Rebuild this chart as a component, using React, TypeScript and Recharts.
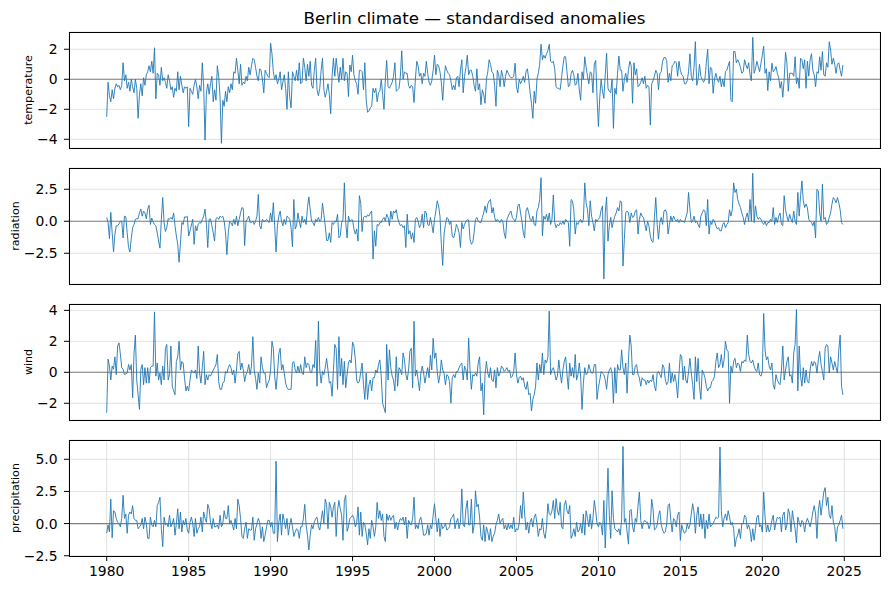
import React from 'react';
import { LineChart, Line, XAxis, YAxis, CartesianGrid, ReferenceLine } from 'recharts';

// Monthly standardised anomalies, Jan 1980 .. Dec 2024 (12 values per row = one year)
const temperature: number[] = [
  -2.5, -0.2, -1.1, -1.5, -0.7, -1.3, -0.6, -0.3, -0.5, -0.4, -0.7, -0.4,
  1.1, -0.1, 0.3, -0.6, -0.2, -0.8, 0.0, -0.5, -0.9, 0.0, -0.6, -2.6,
  -1.0, -0.3, -1.1, 0.1, -0.4, 0.3, 0.5, 0.9, 0.5, 1.2, 0.4, 2.1,
  -1.3, 0.4, 0.3, -0.4, 0.8, -0.1, 0.1, -0.2, -0.6, 0.3, -0.1, -0.7,
  -0.5, -1.2, -0.6, -0.8, 0.5, -0.7, 0.2, -0.4, -0.9, -0.5, -0.6, -0.5,
  -3.15, -0.6, -0.8, -1.0, -0.4, 0.0, -0.5, -1.3, -0.4, -0.8, 1.1, -0.5,
  -4.05, -0.9, -0.3, -1.0, -0.3, 0.2, -1.5, -0.7, -1.4, 0.9, 0.2, -1.2,
  -4.27, -1.4, -1.8, -0.8, -1.5, -0.5, -0.9, -0.3, -0.7, 0.5, 0.4, 1.4,
  0.6, -0.3, 1.0, -0.4, -0.2, -0.3, 0.2, -0.1, 0.8, 0.3, 0.9, 1.4,
  1.3, 0.8, 0.2, -0.1, 0.7, 0.6, 0.0, -0.9, 0.6, 0.4, 0.2, 0.1,
  2.4, 1.7, 0.5, 0.0, 0.3, -0.3, 0.0, 0.5, -0.7, -0.2, 0.3, -0.6,
  -2.0, 0.5, -1.2, -1.9, 0.5, 0.2, -0.1, 0.6, -0.1, 1.1, -0.3, -0.2,
  1.4, 0.8, -0.1, 1.0, 0.2, 1.2, -0.4, -0.6, 0.6, 1.4, -0.7, -1.1,
  -0.6, 0.6, 1.4, -0.7, -1.2, -0.8, -0.3, -1.0, -2.3, 0.2, 1.4, 0.2,
  1.4, 0.6, -0.2, 0.8, 0.0, 1.4, -0.1, 0.5, 0.4, -1.15, 0.95, 0.5,
  1.6, 0.3, -0.1, -0.3, -1.0, 0.6, 0.6, 0.5, -0.7, 1.1, -1.4, -2.2,
  -2.1, -1.9, -1.8, -0.6, -0.9, -0.6, -1.5, -0.9, -0.8, 0.0, -1.0, -2.0,
  0.0, 1.25, -0.5, -0.6, -0.4, -0.2, 0.2, 1.1, -0.8, -0.7, -0.6, 0.2,
  1.9, 0.0, 0.5, 0.4, 0.4, -0.4, -0.6, -0.4, -0.5, -1.55, 0.0, 1.2,
  0.9, 0.2, 0.4, -0.3, 0.4, 0.2, 1.2, 0.4, -0.2, -0.4, -0.1, 0.6,
  1.6, 0.3, 1.0, 0.9, 0.5, -0.2, -1.4, 0.0, 0.9, 0.6, 0.4, 0.3,
  -0.1, -0.7, -0.4, -0.7, 0.1, 0.2, -0.5, 0.6, 1.3, -0.9, 0.2, 0.8,
  1.6, 0.3, 0.6, 0.6, 0.2, -0.4, -0.8, 0.7, -0.7, -0.3, -1.7, -0.7,
  -1.0, -1.6, 0.0, 0.5, 1.3, 1.0, 0.5, 0.4, -0.4, -1.8, 0.6, 0.3,
  -0.5, 0.6, 0.2, -0.5, 0.2, 0.6, 0.4, 0.2, 0.1, 0.1, 0.2, 1.07,
  -0.5, -0.9, 0.0, -0.3, -0.1, 0.2, -0.2, 0.5, 0.7, 0.0, -0.9, -1.6,
  -2.6, -0.8, -1.6, 0.0, 0.4, 1.0, 2.33, 1.3, 1.6, 1.4, 1.7, 1.9,
  2.33, 1.2, 1.1, 1.2, 0.7, -0.5, -0.6, -0.6, -0.7, 0.1, 0.9, 1.5,
  1.5, 0.5, -0.5, -0.4, 0.4, 0.6, 0.3, -0.4, -0.3, 0.4, -0.7, -1.4,
  0.5, 0.0, 1.5, 0.8, 0.2, -0.3, 0.5, 0.4, -0.9, 1.0, 1.25, -1.2,
  -3.15, -1.2, 0.0, -0.8, -1.27, 0.3, 1.73, -0.6, -0.8, -0.9, 0.0, -3.27,
  -0.6, -1.0, 0.4, 1.55, 0.6, 0.6, -0.8, 0.0, 0.4, -0.2, 0.6, 1.2,
  0.9, -1.6, 1.1, 0.3, 0.7, -0.5, -0.4, -0.2, 0.1, -0.3, 0.2, -0.6,
  -0.4, -0.5, -3.05, -0.3, -0.1, 0.2, 0.6, 0.4, -0.7, 0.4, 0.5, 1.2,
  1.45, 1.45, 1.25, -0.2, 0.4, -0.1, 0.9, 1.0, 1.2, 1.1, 0.2, 1.2,
  0.6, 0.3, 0.2, -0.3, -0.3, -0.1, 0.5, 1.7, 0.2, -0.1, 0.8, 2.5,
  -0.4, 0.0, 1.0, 0.2, 0.0, -0.2, 0.0, 1.1, 2.0, -0.3, 0.8, 0.7,
  -0.93, 0.0, 0.4, 0.0, -0.2, 0.2, -0.5, 0.0, -0.5, 0.5, 0.6, 0.9,
  1.2, -1.4, -1.5, 1.85, 1.85, 1.1, 1.3, 1.1, 0.8, 0.4, 0.5, 1.3,
  0.95, 0.7, 1.1, 0.3, -0.1, 2.8, 0.4, 0.7, 1.2, 0.85, 0.5, 1.07,
  1.6, 2.2, 0.4, 0.7, -0.75, 0.5, -0.1, 1.07, 0.5, 0.6, 0.85, 0.4,
  0.1, -0.6, -0.15, -1.2, 0.0, 1.8, 1.1, -0.8, 0.4, 0.4, 0.4, 0.2,
  1.5, -0.3, 0.1, -0.6, 1.4, 1.3, 0.7, 1.3, -0.6, 1.2, 0.2, 1.3,
  1.7, 0.6, 0.3, -0.5, 0.5, 0.4, 1.5, 0.6, 1.85, 0.3, 0.2, 1.1,
  0.8, 2.5, 1.95, 1.0, 1.4, 1.0, 0.4, 1.0, 1.1, 0.6, 0.2, 0.95,
];

const radiation: number[] = [
  0.3, -0.1, -1.35, 0.7, -0.9, -2.4, -1.0, -0.35, -0.35, -0.2, 0.0, 0.0,
  -1.3, 0.4, 0.35, -0.9, -2.05, -2.4, -1.3, -0.5, -0.25, 0.15, 0.2, 0.2,
  0.65, 0.95, 0.4, 0.8, 0.65, 0.2, 0.95, 1.25, -0.25, 0.25, -0.05, -0.25,
  -0.35, -0.9, -1.55, -2.1, 0.15, 1.85, -0.1, -0.8, -0.5, 0.2, 0.15, 0.3,
  0.15, 0.65, -0.35, -1.15, -1.8, -3.2, -1.7, -0.1, -0.25, 0.35, 0.3, 0.4,
  -1.15, -0.75, -0.3, 0.15, -1.8, -0.35, -0.75, -0.25, -0.1, -0.15, 0.15, 0.4,
  0.95, -0.25, -2.05, 0.15, 0.2, -0.35, -0.9, -1.55, 0.2, 0.3, 0.15, 0.4,
  0.3, 0.4, 0.0, -0.9, -2.6, -0.9, 0.0, -0.1, -0.35, 0.15, -0.25, 0.4,
  -0.35, 0.15, 0.65, 1.07, 1.0, -1.9, 0.0, 0.15, 0.4, -0.1, -0.1, 0.0,
  -0.25, 0.0, 0.4, 2.1, -0.35, -0.6, 0.15, 0.0, 0.0, 0.15, 0.0, -0.1,
  0.65, 0.0, 1.45, -0.35, -2.4, -0.35, 0.4, 0.8, 0.0, -0.35, 0.15, -0.25,
  0.4, 0.3, 0.15, -0.5, -2.0, 1.7, -0.6, -0.35, 0.65, 0.0, -0.5, 0.4,
  -0.1, 0.15, -0.25, 1.07, 1.9, 0.9, 0.0, -0.1, -0.35, 0.15, 0.0, 0.3,
  0.0, 0.15, 1.4, 0.55, -0.35, -1.5, -1.5, -0.9, -1.65, -0.1, -0.25, 0.0,
  -0.05, 0.55, -1.3, -1.15, -0.1, 0.15, 3.0, -0.1, -1.3, 0.4, 0.0, 0.1,
  0.1, -0.6, -1.0, -0.6, -1.55, 2.0, 1.4, -0.8, 0.3, 0.4, 0.3, 0.5,
  0.4, 0.65, 0.8, -2.95, -0.75, -1.95, -0.25, -0.35, -0.1, -0.1, 0.15, 0.3,
  0.0, 0.55, 0.3, -0.35, 0.8, 0.15, 0.8, 0.65, 0.9, 0.25, -0.1, -0.35,
  -0.25, -0.5, -0.35, -2.05, 0.55, -1.0, -0.75, -1.4, -0.9, -1.65, 0.15, 0.3,
  0.0, -0.5, -0.25, 0.55, -0.5, 0.8, 0.65, -0.25, -0.35, 0.3, -0.25, -0.9,
  0.15, 0.8, 1.6, 1.2, 0.4, -1.8, -3.45, -1.0, -0.25, 0.3, 0.2, -0.25,
  0.0, -1.15, -1.3, -0.9, -0.25, -0.5, -0.9, -2.05, -0.1, -0.6, -0.25, 0.0,
  0.1, 0.1, -1.4, -1.8, -1.65, -0.9, 0.15, 0.3, 0.0, -0.1, -0.1, 0.3,
  0.65, 1.2, 0.65, 1.35, 1.6, 1.7, 0.65, 1.07, 0.3, 0.0, 0.15, 0.0,
  -0.1, 0.15, 0.0, -0.9, -1.35, 0.15, 0.4, 0.65, 0.8, 0.3, 0.15, 0.0,
  0.3, 1.2, 1.35, 0.65, 0.0, -0.9, -1.3, 0.8, 1.07, 0.65, 0.15, 0.0,
  0.4, -0.25, -0.35, 0.8, 1.07, 1.7, 3.4, -1.15, 0.4, 0.15, 0.55, 0.0,
  0.65, -0.25, 0.15, 2.05, -0.1, -0.5, -0.25, -0.35, -0.1, -0.25, 0.0, -0.25,
  0.15, 0.0, -0.1, -1.95, 1.7, 1.6, 0.9, -1.0, -0.1, -0.25, 0.0, 0.15,
  -0.1, 0.15, 3.0, 1.45, 0.9, -0.35, 1.6, 0.4, -0.1, -0.75, 0.15, 0.0,
  0.15, 0.3, 0.9, 1.2, -4.5, 0.65, 1.9, -1.55, -0.35, 0.3, -0.5, 0.0,
  0.4, 0.65, 1.07, 0.8, 1.6, 1.45, -3.5, -1.4, 0.65, 0.8, 0.65, -0.1,
  0.65, 0.3, 0.4, 0.8, 0.9, -1.0, 0.15, 0.65, 0.4, 0.3, -0.25, -0.75,
  0.0, -0.35, -1.15, -1.55, -1.65, 0.3, 1.85, -0.25, -1.4, -0.1, 0.3, -0.25,
  0.8, 0.9, 0.65, -1.0, -0.25, 0.4, 0.0, 0.4, 0.15, 0.0, 0.15, -0.1,
  0.15, 0.0, 0.0, -0.1, 0.3, 0.65, 2.25, 0.9, -0.1, 0.0, 0.4, -0.1,
  0.0, -0.25, -0.5, 0.4, 0.65, 0.9, 0.8, -0.35, 1.7, -1.0, 0.0, -0.25,
  0.15, 0.0, -0.35, -0.6, -0.5, -0.75, -0.75, -0.25, -0.1, -0.5, -0.25, -0.1,
  0.9, 0.4, 0.9, 3.0, 2.25, 2.5, 1.7, 1.35, 1.07, 0.65, 0.3, -0.25,
  0.3, 0.65, 0.0, 1.7, 0.0, 3.75, -0.1, 1.2, 0.4, 0.15, 0.3, 0.15,
  -0.1, -0.25, 0.0, -0.35, -0.1, -0.1, 0.15, 0.0, 1.07, -0.25, 0.3, -0.1,
  0.4, 0.65, -0.25, -0.35, 2.0, 0.9, 0.4, 0.0, 0.55, 0.15, -0.1, 0.8,
  0.0, -0.25, 2.25, 0.4, 2.0, 3.15, 1.6, 1.07, 1.35, 1.07, 0.15, 0.0,
  -0.1, -0.35, 0.0, -1.3, 2.5, 2.35, 0.65, 0.0, 2.9, 0.15, 0.3, -0.25,
  -0.1, 0.3, 0.65, 1.35, 1.85, 1.7, 1.45, 1.85, 1.45, 0.9, -0.1, -0.25,
];

const wind: number[] = [
  -2.6, 0.85, 0.4, -0.5, 0.4, 0.2, 1.0, -0.15, 1.7, 1.9, 1.2, 0.3,
  0.2, -0.15, -0.1, -0.05, 0.5, 0.15, 0.5, -1.65, 1.2, 2.4, -0.5, -1.45,
  -2.4, 0.2, 0.5, -0.8, 0.3, -0.7, 0.3, -0.7, 0.3, 0.4, 0.4, 3.9,
  -0.25, 0.6, -0.5, -0.05, -0.8, 0.4, -0.5, 1.55, 1.8, -0.5, -0.15, 1.7,
  -0.9, -1.2, -1.45, 0.7, 1.0, 2.0, 0.15, 0.7, 0.6, -0.4, -1.2, -0.9,
  -1.2, -0.5, 0.15, 0.05, -0.05, 0.15, -0.4, 1.7, -0.05, -0.7, 0.3, 1.35,
  -0.8, -0.15, -0.5, -0.15, -0.25, -0.05, 0.15, 0.3, 0.5, 1.15, -0.6, -1.1,
  -1.1, -0.7, -0.6, 0.05, -0.05, 0.3, 0.5, 0.3, -0.15, 0.15, -0.7, 0.15,
  1.2, 1.35, 0.15, 0.6, 0.15, -0.6, -0.15, 0.05, 0.5, -0.15, 0.4, 2.3,
  0.15, -0.4, -1.1, -0.05, -0.7, 1.0, 0.3, -0.05, -0.05, -1.0, -0.7, -0.5,
  0.15, 2.0, 1.55, -0.25, -1.1, -0.05, 1.2, 1.55, 0.15, 0.5, -0.05, -0.7,
  -1.0, -1.1, -1.1, -1.1, 0.6, 0.7, 0.15, -0.05, 0.4, -0.05, 0.5, -0.05,
  -0.15, 1.0, 0.3, 0.6, 0.5, 0.05, -0.05, 0.5, 0.3, 2.05, -0.9, 3.3,
  0.15, -0.7, 0.05, -0.15, 0.3, 0.9, 0.15, -0.7, -0.6, -1.55, 0.15, 1.8,
  1.55, -1.1, 2.3, -0.25, 0.9, -0.8, 0.7, -1.0, -0.15, 0.6, 0.8, 0.6,
  1.95, 1.7, 0.9, -0.5, -0.7, -0.6, 0.05, 0.6, -0.8, -1.75, -0.05, -1.75,
  -0.8, -0.5, -1.2, -0.35, -0.35, 0.15, -0.05, 0.5, 0.8, -0.25, -2.0, -2.3,
  -2.6, 1.8, -0.5, 1.45, 0.3, -0.25, -0.5, -1.2, 1.0, -0.9, 0.3, 0.15,
  -0.15, 1.25, 0.8, -0.15, -0.5, 0.15, 1.35, 1.55, -1.0, 3.3, -0.25, 0.15,
  -0.5, -1.2, -0.05, 0.4, -0.05, -0.7, -0.15, 0.3, -0.35, 1.1, 0.15, 2.2,
  0.9, 1.25, 0.05, -0.7, -0.15, 0.8, 0.15, -0.05, -0.8, -0.15, -0.25, -0.6,
  -2.0, -0.35, -0.15, -0.35, 0.05, 0.05, 0.3, 0.5, 0.6, -0.5, 0.4, 0.15,
  -0.5, 2.2, 0.15, -1.1, -0.15, -0.25, -0.05, -0.25, 0.6, 1.0, -1.2, -0.7,
  -2.75, -0.15, 0.7, -0.05, -0.35, 0.3, -0.5, -0.6, 0.15, -1.0, 0.3, -0.25,
  -0.05, 0.4, 0.3, 0.05, 0.15, 0.3, 0.05, 0.15, -0.35, -0.25, 0.05, 1.25,
  -0.15, -0.7, -0.35, -0.25, -0.5, -0.35, -0.9, -1.1, -0.6, -1.45, -1.35, -2.5,
  -1.75, -1.45, -0.9, 0.6, -0.5, 0.5, -0.05, 1.25, -0.15, 0.8, 0.6, 1.0,
  3.95, -0.15, 0.15, 0.3, -0.05, -0.5, -0.25, 0.8, -0.05, -0.7, 0.15, 0.7,
  1.0, -0.15, -1.1, 0.6, -0.25, 0.3, -0.35, 1.15, -0.5, -0.15, 0.6, -0.25,
  -2.4, -0.7, 0.3, -0.15, -0.05, 0.5, 0.15, -0.05, -0.05, 0.5, 0.5, -1.75,
  -1.0, -0.5, 0.05, -0.05, -0.15, -0.5, -1.1, -0.15, 0.15, 0.3, -0.05, -2.0,
  0.3, -1.35, 0.5, 0.15, 0.15, 1.45, 0.3, -0.15, 0.6, -1.35, 0.8, 2.4,
  1.7, -0.15, -0.15, 0.4, 0.5, -0.15, -0.35, -0.9, -0.35, -0.5, -0.5, -0.8,
  -0.5, -0.7, -0.5, -0.6, -0.15, -0.9, -1.2, -0.05, 0.05, -0.15, -0.35, 0.5,
  0.3, -0.5, -0.8, -0.6, 0.6, -0.7, -0.05, -0.6, -0.15, -0.7, -1.65, -0.05,
  1.15, 1.0, -0.5, 0.4, -0.5, -0.7, 0.05, 0.9, -0.05, -0.8, -1.75, 1.0,
  -0.6, 0.9, -0.9, -1.75, 0.15, -0.05, -0.35, -0.9, -1.2, -1.0, -1.0, -0.6,
  -0.5, -0.25, 0.7, 1.25, 0.3, 0.5, 1.15, 0.3, 0.8, 2.0, 1.45, 1.35,
  -2.0, 0.4, -0.05, 0.7, 0.9, 0.3, 0.6, 0.5, 0.05, 0.7, 0.6, 0.8,
  0.7, 2.4, 1.15, 0.7, 0.6, 0.8, 0.4, 0.15, 0.05, 0.6, -0.15, -0.25,
  0.05, 3.8, 1.45, 0.8, 1.0, 0.4, 0.15, 0.6, -0.8, -1.1, -0.15, -0.5,
  -0.7, -0.8, 0.15, 1.7, -0.5, 0.15, 0.7, 1.0, -0.25, -0.15, -0.7, 1.25,
  1.8, 4.05, -1.2, 1.7, -0.25, -0.9, 0.3, -0.7, 0.15, -0.6, -0.7, 0.15,
  0.7, 0.4, 0.7, 0.6, -0.05, 0.8, 1.35, 0.5, 0.05, -0.5, 1.55, 1.8,
  1.7, -0.05, 1.0, 0.6, 0.15, 0.7, 0.3, -0.05, 1.45, 2.4, -0.9, -1.45,
];

const precipitation: number[] = [
  -0.75, -0.1, -0.65, 1.9, -1.1, 1.0, 0.9, 0.4, 0.1, 0.0, -0.25, 0.4,
  2.2, 0.4, 0.75, -0.75, 0.65, 0.9, 0.75, 1.4, 0.4, 0.25, 0.25, -0.4,
  -0.25, -0.1, 0.4, -0.4, 0.5, 0.0, -1.15, -1.15, 0.5, -0.1, -0.25, 0.25,
  -0.25, 1.4, 1.65, 2.05, -0.4, -1.8, 0.5, -0.1, 0.0, -0.25, 0.65, -0.25,
  0.0, 0.4, -0.9, 0.0, 1.15, -0.4, 0.9, -0.65, 0.25, -0.1, 0.4, -0.5,
  -0.75, 0.1, 0.5, 0.0, -1.0, 0.4, -0.75, -0.4, -0.25, 0.5, -0.65, 0.9,
  0.4, 0.1, 1.5, 1.15, 0.1, -0.4, 0.4, -0.25, -0.25, -0.1, -0.4, 0.65,
  -0.25, 0.0, 1.0, 0.4, 0.4, 1.4, 0.0, 0.25, -0.1, -0.5, 0.4, -0.4,
  1.9, 1.4, 0.4, -1.0, -1.15, -0.4, 0.1, -1.15, -0.4, -0.5, -0.5, 0.5,
  -1.3, -0.4, 0.0, 0.4, 0.1, -1.15, -0.25, -1.4, -0.9, -0.25, 0.25, 0.25,
  -0.25, 0.1, -0.75, -0.75, 4.85, -1.4, 0.1, 0.75, -0.9, 0.75, 0.25, -0.4,
  0.4, -0.9, -0.1, 0.4, -0.25, -1.0, -0.65, -0.4, -0.5, -1.15, -0.25, -0.25,
  0.4, 1.5, -0.1, -0.9, -2.05, -0.9, -0.1, -0.4, 0.1, 0.4, 0.5, -0.25,
  -0.5, 0.25, 1.0, 0.0, 1.9, 1.5, -0.4, 1.65, 1.3, 0.5, 1.3, 1.65,
  -1.0, 1.0, 1.8, 1.15, 0.65, -1.3, 1.8, 2.2, -0.6, -0.25, 0.4, 0.5,
  0.65, 0.4, -0.25, 0.0, 1.3, -0.9, 0.9, -1.0, 0.1, -0.1, -0.75, -1.65,
  -0.4, -1.15, 0.25, -0.25, -1.0, -0.25, 1.65, 0.4, 1.0, 0.25, 0.75, -1.0,
  -1.4, 0.75, 0.25, 0.65, 0.25, 0.5, 0.65, -0.4, 0.1, -0.5, 0.1, 0.4,
  0.25, 0.5, -0.1, 0.5, -1.15, 0.25, 0.0, -0.1, 0.4, 2.05, -0.4, -0.1,
  -0.4, 0.25, 0.5, -0.1, -0.9, -0.9, -0.75, -0.1, -0.9, -0.1, -0.4, 0.65,
  1.55, 0.4, -0.65, 0.4, -1.0, 0.0, -0.4, -0.25, 0.0, -0.5, -0.4, -0.25,
  0.4, 0.5, 0.75, -0.4, 0.1, 0.4, -0.4, 0.1, 2.7, -0.1, -0.25, 1.15,
  1.8, -0.1, -0.1, 1.9, -0.75, -0.1, 2.55, 1.3, 1.5, 0.5, -1.0, -1.3,
  -0.1, -1.4, -0.25, -0.65, -1.3, -0.4, -1.4, -1.0, -0.75, -0.1, 0.25, 0.75,
  0.0, 0.25, 0.4, -0.4, -0.1, -0.5, 0.0, -0.4, -0.1, -0.4, 0.5, -0.65,
  -0.4, -0.5, 0.0, 1.4, 0.4, 2.45, 0.75, -0.5, 0.1, -0.75, 0.1, 0.4,
  -0.25, 0.5, 0.75, 0.0, -1.0, -0.4, -0.5, 0.4, -0.75, -1.15, -0.25, 1.55,
  0.75, 0.65, 1.0, 1.8, 0.4, 1.95, 1.0, 0.65, 1.65, -0.25, -0.4, 1.4,
  1.8, 1.0, 0.75, 1.4, -1.15, -0.9, -0.4, -1.0, 0.1, -0.65, -0.5, 0.0,
  -0.75, 0.75, -0.9, 1.0, 0.4, -0.25, 0.75, -0.4, 0.4, 1.8, 1.0, 0.0,
  -0.25, 0.1, -0.1, -0.9, 1.8, -1.9, 0.9, 4.3, 0.65, -1.15, 2.55, 0.4,
  -0.4, -0.5, -0.65, -0.4, -0.9, 0.4, 6.0, 0.1, 0.4, -0.65, -1.6, 1.0,
  1.1, -0.25, -0.65, 0.4, 0.1, 1.4, 2.45, 0.25, -0.4, 0.1, 0.25, 0.1,
  0.1, -0.4, -0.1, 1.9, 1.15, -0.5, -0.4, -0.1, 0.65, 1.0, -0.1, -0.5,
  -0.75, -0.65, 0.0, 1.4, 1.55, 0.25, -0.65, 0.4, 0.25, -0.25, 0.65, 0.9,
  -1.3, -0.1, -0.5, -0.75, -0.65, 0.0, -0.4, -0.1, 0.75, 1.55, 0.9, -0.75,
  0.65, 1.3, -0.25, 0.75, -0.4, 0.75, -1.15, 0.25, -0.4, 0.75, -0.25, -0.1,
  0.0, 0.25, 0.5, 0.4, 0.5, 5.95, 1.0, -0.25, 0.4, 0.75, 0.25, 1.0,
  0.5, -0.1, 0.1, -0.4, -1.8, -1.15, -0.9, -0.4, -1.15, 0.0, 0.0, 0.65,
  0.5, -0.4, -0.1, -0.5, -1.4, -0.4, -1.3, -0.4, 0.5, 0.65, -0.25, -0.1,
  -0.65, 2.45, 0.5, -0.65, -0.1, -0.65, -0.4, 0.25, 0.65, -0.5, 0.1, 0.5,
  0.4, 0.5, -0.65, 0.65, 0.9, -0.5, -0.1, 1.15, 0.75, -0.65, 1.0, 0.25,
  -0.4, -1.5, 0.5, 0.1, -0.25, 0.25, 0.1, -0.65, 0.1, 0.4, 0.1, -0.25,
  0.25, 0.9, 1.4, 0.75, -1.15, 1.0, 1.8, 0.65, 1.55, 2.45, 2.8, 1.4,
  2.05, 0.65, 0.4, 1.4, 0.1, -0.25, -1.4, -0.25, -0.1, 0.25, 0.65, -0.4,
];

const startYear = 1980;
const yearTicks = [1980, 1985, 1990, 1995, 2000, 2005, 2010, 2015, 2020, 2025];
const tempTicks = [-4, -2, 0, 2];
const radTicks = [-2.5, 0, 2.5];
const windTicks = [-2, 0, 2, 4];
const precTicks = [-2.5, 0, 2.5, 5];
const titleText = 'Berlin climate \u2014 standardised anomalies';

const n = Math.min(temperature.length, radiation.length, wind.length, precipitation.length);
const data = Array.from({ length: n }, (_, i) => ({
  t: startYear + i / 12,
  temperature: temperature[i],
  radiation: radiation[i],
  wind: wind[i],
  precipitation: precipitation[i],
}));

const W = 889;
const PLOT_LEFT = 69;
const PLOT_RIGHT = 880;
const PLOT_H = 116;
const TOP_PAD = 10;
const XAXIS_H = 30;
const X_DOMAIN: [number, number] = [1977.7, 2027.18];
const FONT = '"DejaVu Sans", sans-serif';

const minus = (s: string) => s.replace('-', '\u2212');
const fmtInt = (v: number) => minus(String(v));
const fmtOne = (v: number) => minus(v.toFixed(1));

const tickStyle = { fill: '#000', fontSize: 13.9, fontFamily: FONT };

type PanelProps = {
  top: number;
  dataKey: string;
  label: string;
  labelX: number;
  domain: [number, number];
  ticks: number[];
  fmt: (v: number) => string;
  showX: boolean;
};

function Panel({ top, dataKey, label, labelX, domain, ticks, fmt, showX }: PanelProps) {
  const H = PLOT_H + TOP_PAD + XAXIS_H;
  return (
    <div style={{ position: 'absolute', left: 0, top: top - TOP_PAD, width: W, height: H }}>
      <LineChart
        width={W}
        height={H}
        data={data}
        margin={{ top: TOP_PAD, right: W - PLOT_RIGHT, bottom: 0, left: 0 }}
      >
        <CartesianGrid stroke="#e2e2e2" strokeWidth={1} />
        <XAxis
          type="number"
          dataKey="t"
          domain={X_DOMAIN}
          ticks={yearTicks}
          interval={0}
          allowDataOverflow
          axisLine={false}
          stroke="#000"
          tickLine={{ stroke: '#000' }}
          tickSize={5}
          tickMargin={5}
          height={XAXIS_H}
          tick={showX ? tickStyle : false}
        />
        <YAxis
          type="number"
          domain={domain}
          ticks={ticks}
          interval={0}
          allowDataOverflow
          width={PLOT_LEFT}
          axisLine={false}
          stroke="#000"
          tickLine={{ stroke: '#000' }}
          tickSize={5}
          tickMargin={6.5}
          tick={tickStyle}
          tickFormatter={fmt}
        />
        <ReferenceLine y={0} stroke="#808080" strokeWidth={1.1} />
        <Line
          type="linear"
          dataKey={dataKey}
          stroke="#1f77b4"
          strokeWidth={0.9}
          dot={false}
          activeDot={false}
          isAnimationActive={false}
        />
      </LineChart>
      <div
        style={{
          position: 'absolute',
          left: PLOT_LEFT,
          top: TOP_PAD,
          width: PLOT_RIGHT - PLOT_LEFT + 1,
          height: PLOT_H + 1,
          border: '1px solid #000',
          boxSizing: 'border-box',
          pointerEvents: 'none',
        }}
      />
      <div
        style={{
          position: 'absolute',
          left: labelX,
          top: TOP_PAD + PLOT_H / 2,
          transform: 'translate(-50%, -50%) rotate(-90deg)',
          fontFamily: FONT,
          fontSize: 11.1,
          color: '#000',
          whiteSpace: 'nowrap',
          lineHeight: '13px',
        }}
      >
        {label}
      </div>
    </div>
  );
}

export default function App() {
  return (
    <div style={{ position: 'absolute', left: 0, top: 0, width: W, height: 590, background: '#fff', overflow: 'hidden' }}>
      <div
        style={{
          position: 'absolute',
          left: PLOT_LEFT,
          width: PLOT_RIGHT - PLOT_LEFT,
          top: 8,
          textAlign: 'center',
          fontFamily: FONT,
          fontSize: 16.7,
          lineHeight: '20px',
          color: '#000',
        }}
      >
        {titleText}
      </div>
      <Panel top={32} dataKey="temperature" label="temperature" labelX={28} domain={[-4.58, 3.15]} ticks={tempTicks} fmt={fmtInt} showX={false} />
      <Panel top={168} dataKey="radiation" label="radiation" labelX={15} domain={[-4.9, 4.16]} ticks={radTicks} fmt={fmtOne} showX={false} />
      <Panel top={304} dataKey="wind" label="wind" labelX={28} domain={[-3.08, 4.41]} ticks={windTicks} fmt={fmtInt} showX={false} />
      <Panel top={440} dataKey="precipitation" label="precipitation" labelX={15} domain={[-2.52, 6.5]} ticks={precTicks} fmt={fmtOne} showX={true} />
    </div>
  );
}
